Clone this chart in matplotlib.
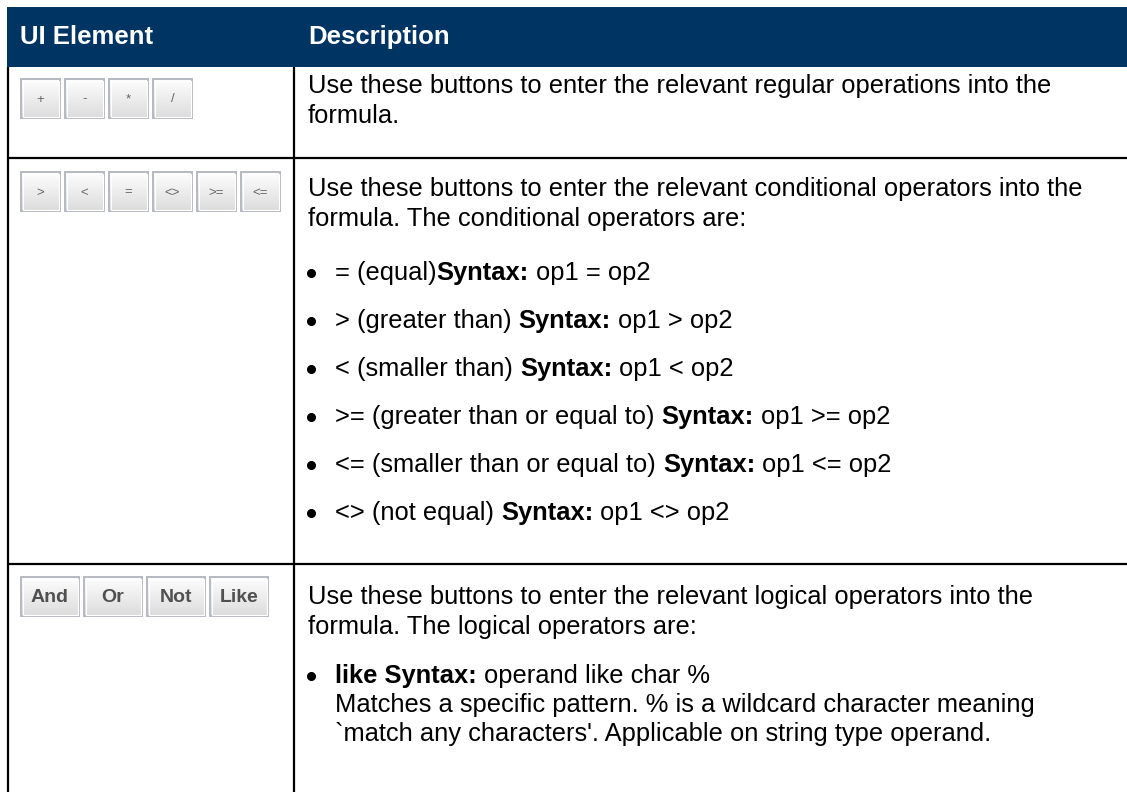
import numpy as np
import matplotlib.pyplot as plt
from matplotlib.patches import Rectangle

W, H = 1127, 792

header_labels = ["UI Element", "Description"]

row_buttons = [
    ["+", "-", "*", "/"],
    [">", "<", "=", "<>", ">=", "<="],
    ["And", "Or", "Not", "Like"],
]

# description text per row: (kind, text) with **bold** markup
# kind: "p" = paragraph line, "b" = bullet line, "c" = continuation under bullet
row_text = [
    [("p", "Use these buttons to enter the relevant regular operations into the"),
     ("p", "formula.")],
    [("p", "Use these buttons to enter the relevant conditional operators into the"),
     ("p", "formula. The conditional operators are:"),
     ("b", "= (equal)**Syntax:** op1 = op2"),
     ("b", "> (greater than) **Syntax:** op1 > op2"),
     ("b", "< (smaller than) **Syntax:** op1 < op2"),
     ("b", ">= (greater than or equal to) **Syntax:** op1 >= op2"),
     ("b", "<= (smaller than or equal to) **Syntax:** op1 <= op2"),
     ("b", "<> (not equal) **Syntax:** op1 <> op2")],
    [("p", "Use these buttons to enter the relevant logical operators into the"),
     ("p", "formula. The logical operators are:"),
     ("b", "**like Syntax:** operand like char %"),
     ("c", "Matches a specific pattern. % is a wildcard character meaning"),
     ("c", "`match any characters'. Applicable on string type operand.")],
]

# layout (pixels)
header_top, header_bot = 7, 67
row_bounds = [67, 158, 564, 792]
col_x = 294
left_x = 8
line_baselines = [
    [93, 123],
    [196, 226, 280, 328, 376, 424, 472, 520],
    [604, 634, 683, 712, 741],
]
button_tops = [79, 172, 577]
text_x, bullet_x, bullet_text_x = 308, 311, 335

FONT = "Liberation Sans"
FS = 18.4
NAVY = "#003462"

fig = plt.figure(figsize=(W / 100, H / 100), dpi=100)
ax = fig.add_axes([0, 0, 1, 1])
ax.set_axis_off()
ax.set_xlim(0, W)
ax.set_ylim(H, 0)

renderer = fig.canvas.get_renderer()


def text_width(s, weight):
    t = ax.text(0, 0, s, fontsize=FS, family=FONT, fontweight=weight)
    w = t.get_window_extent(renderer).width
    t.remove()
    return w


space_w = text_width("x x", "normal") - text_width("xx", "normal")


def draw_rich(x, y, s):
    parts = s.split("**")
    for i, p in enumerate(parts):
        if not p:
            continue
        weight = "bold" if i % 2 else "normal"
        lead = len(p) - len(p.lstrip(" "))
        trail = len(p) - len(p.rstrip(" "))
        core = p.strip(" ")
        x += lead * space_w
        t = ax.text(x, y, core, fontsize=FS, family=FONT, fontweight=weight,
                    va="baseline", ha="left", color="#000000")
        x += t.get_window_extent(renderer).width + trail * space_w


def draw_button(x0, y0, w, h, label, bold):
    grad = np.linspace(0.995, 0.86, 40).reshape(-1, 1)
    ax.imshow(np.repeat(grad, 2, axis=1), cmap="gray", vmin=0, vmax=1,
              extent=(x0, x0 + w, y0 + h, y0), origin="upper",
              aspect="auto", zorder=2, interpolation="bilinear")
    ax.add_patch(Rectangle((x0, y0), w, h, fill=False, ec="#b5b9c1",
                           lw=1.4, zorder=3))
    ax.add_patch(Rectangle((x0 + 1.5, y0 + 1.5), w - 3, h - 3, fill=False,
                           ec="#ffffff", lw=0.8, zorder=3))
    if bold:
        ax.text(x0 + w / 2, y0 + h / 2 + 1, label, fontsize=14, family=FONT,
                fontweight="bold", color="#505050", ha="center", va="center",
                zorder=4)
    else:
        ax.text(x0 + w / 2, y0 + h / 2 + 1, label, fontsize=9.5, family=FONT,
                color="#666666", ha="center", va="center", zorder=4)


# header band
ax.add_patch(Rectangle((header_top, header_top), W - header_top,
                       header_bot - header_top, color=NAVY, lw=0, zorder=1))
ax.text(20, 44, header_labels[0], fontsize=18.5, family=FONT,
        fontweight="bold", color="white", va="baseline")
ax.text(text_x, 44, header_labels[1], fontsize=18.5, family=FONT,
        fontweight="bold", color="white", va="baseline")

# grid lines
ax.plot([left_x, left_x], [header_bot, H], color="black", lw=1.6,
        solid_capstyle="butt")
ax.plot([col_x, col_x], [header_bot, H], color="black", lw=1.6,
        solid_capstyle="butt")
for yb in row_bounds[1:-1]:
    ax.plot([left_x, W], [yb, yb], color="black", lw=1.6,
            solid_capstyle="butt")

# buttons
for labels, top in zip(row_buttons, button_tops):
    bold = any(len(l) > 2 for l in labels)
    bw = 58 if bold else 39
    bx = 21
    for lab in labels:
        draw_button(bx, top, bw, 39, lab, bold)
        bx += bw + 5

# descriptions
for lines, ys in zip(row_text, line_baselines):
    for (kind, s), y in zip(lines, ys):
        if kind == "p":
            draw_rich(text_x, y, s)
        elif kind == "b":
            ax.plot(bullet_x, y - 7, "o", ms=5.5, color="black")
            draw_rich(bullet_text_x, y, s)
        else:
            draw_rich(bullet_text_x, y, s)

ax.set_xlim(0, W)
ax.set_ylim(H, 0)
fig.savefig("out.png", dpi=100)
